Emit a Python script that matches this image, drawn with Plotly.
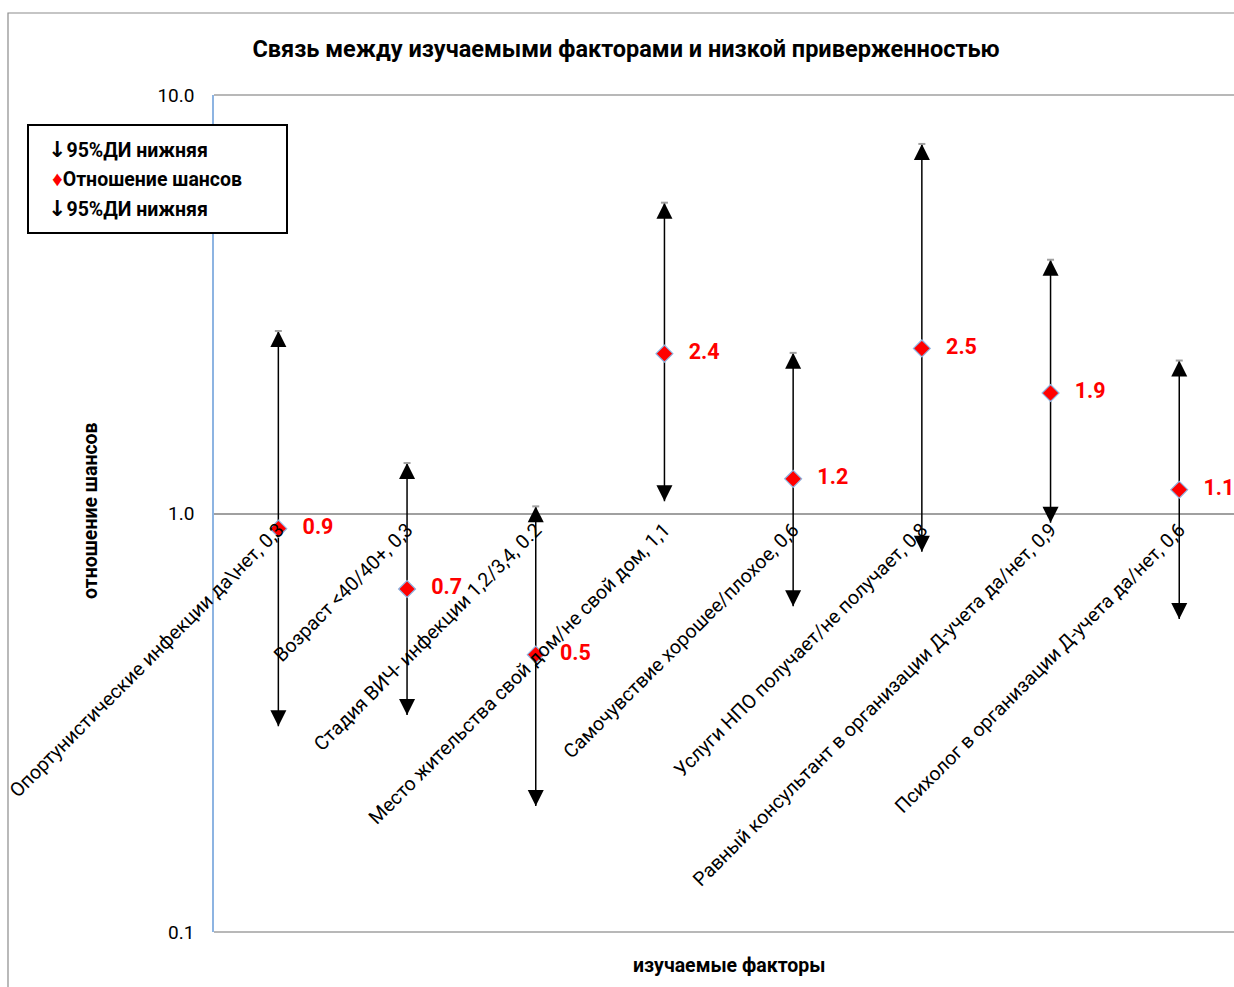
import numpy as np
import plotly.graph_objects as go

# Factors (with the lower 95% CI bound in the label)
categories = [
    "Опортунистические инфекции да\\нет, 0,3",
    "Возраст <40/40+, 0,3",
    "Стадия ВИЧ- инфекции 1,2/3,4, 0.2",
    "Место жительства свой дом/не свой дом, 1,1",
    "Самочувствие хорошее/плохое, 0,6",
    "Услуги НПО получает/не получает, 0,8",
    "Равный консультант в организации Д-учета да/нет, 0,9",
    "Психолог в организации Д-учета да/нет, 0,6",
]
odds_ratio = [0.92, 0.66, 0.46, 2.41, 1.21, 2.48, 1.94, 1.14]
ci_upper = [2.73, 1.32, 1.04, 5.53, 2.42, 7.64, 4.04, 2.32]
ci_lower = [0.31, 0.33, 0.20, 1.07, 0.60, 0.81, 0.95, 0.56]

y_ticks = [0.1, 1.0, 10.0]

FONT = "Roboto, 'Noto Sans', sans-serif"

# plot area in pixels
W, H = 1234, 987
L, R, T, B = 214, 0, 95, 55
PW, PH = W - L - R, H - T - B


def px(x):
    return (x - L) / PW


def py(y):
    return (H - B - y) / PH


orr = np.array(odds_ratio)
up = np.array(ci_upper)
lo = np.array(ci_lower)

fig = go.Figure()

# odds ratios with CI stems drawn as error bars
fig.add_trace(go.Scatter(
    x=categories, y=odds_ratio, mode="markers+text",
    name="Отношение шансов",
    marker=dict(symbol="diamond", size=13, color="#FF0000",
                line=dict(color="#8DB4E2", width=1.2)),
    error_y=dict(type="data", symmetric=False, array=up - orr,
                 arrayminus=orr - lo, width=0, thickness=1.5, color="black"),
    texttemplate="  \u2009%{y:.1f}", textposition="middle right",
    textfont=dict(family=FONT, size=21.5, color="#FF0000", weight="bold"),
    cliponaxis=False, showlegend=False,
))

# arrowheads at the CI bounds
fig.add_trace(go.Scatter(
    x=categories, y=ci_upper, mode="markers", name="95%ДИ верхняя",
    marker=dict(symbol="arrow-up", size=16, color="black"),
    cliponaxis=False, showlegend=False,
))
fig.add_trace(go.Scatter(
    x=categories, y=ci_lower, mode="markers", name="95%ДИ нижняя",
    marker=dict(symbol="arrow-down", size=16, color="black"),
    cliponaxis=False, showlegend=False,
))
fig.add_trace(go.Scatter(
    x=categories, y=ci_upper, mode="markers", hoverinfo="skip",
    marker=dict(symbol="line-ew", size=5, color="#A0A0A0",
                line=dict(color="#A0A0A0", width=2)),
    cliponaxis=False, showlegend=False,
))

step = 128.7
fig.update_xaxes(
    type="category", range=[-0.5, -0.5 + PW / step],
    anchor="free", position=0.5, side="bottom",
    showline=False, showgrid=False, ticks="", tickangle=-45,
    tickfont=dict(family=FONT, size=19.5, color="black"),
    automargin=False,
)
fig.update_yaxes(
    type="log", range=[-1, 1], tickvals=y_ticks, tickformat=".1f",
    showgrid=True, gridcolor="#A0A0A0", gridwidth=1.5,
    showline=True, linecolor="#8DB4E2", linewidth=1.5,
    ticks="", ticklabelstandoff=14,
    tickfont=dict(family=FONT, size=19, color="black"),
    automargin=False,
)

shapes = [
    # outer chart frame
    dict(type="rect", xref="paper", yref="paper",
         x0=px(8), x1=px(W + 10), y0=py(H + 10), y1=py(13),
         line=dict(color="#8C8C8C", width=1.2), fillcolor="rgba(0,0,0,0)",
         layer="below"),
    # grid lines along the top and bottom edges of the plot area
    dict(type="line", xref="paper", yref="paper", x0=0, x1=1, y0=1, y1=1,
         line=dict(color="#A0A0A0", width=1.5), layer="below"),
    dict(type="line", xref="paper", yref="paper", x0=0, x1=1, y0=0, y1=0,
         line=dict(color="#A0A0A0", width=1.5), layer="below"),
    # legend box
    dict(type="rect", xref="paper", yref="paper",
         x0=px(28), x1=px(287), y0=py(233), y1=py(125),
         line=dict(color="black", width=2), fillcolor="white", layer="above"),
]

legend_font = dict(family=FONT, size=19.5, color="black", weight="bold")
arrow_glyph = "<span style='font-family:DejaVu Sans;font-size:22px'>↓</span>"
legend_rows = [
    (149, 46, arrow_glyph + "95%ДИ нижняя"),
    (179, 50, "<span style='color:#FF0000;font-size:21px'>♦</span>Отношение шансов"),
    (208, 46, arrow_glyph + "95%ДИ нижняя"),
]
annotations = [
    dict(xref="paper", yref="paper", x=px(xx), y=py(yy), text=t,
         showarrow=False, xanchor="left", yanchor="middle", font=legend_font)
    for yy, xx, t in legend_rows
]
annotations += [
    dict(xref="paper", yref="paper", x=px(90), y=py(511),
         text="отношение шансов", textangle=-90, showarrow=False,
         xanchor="center", yanchor="middle",
         font=dict(family=FONT, size=19.5, color="black", weight="bold")),
    dict(xref="paper", yref="paper", x=px(729), y=py(965),
         text="изучаемые факторы", showarrow=False,
         xanchor="center", yanchor="middle",
         font=dict(family=FONT, size=19.5, color="black", weight="bold")),
]

fig.update_layout(
    width=W, height=H,
    margin=dict(l=L, r=R, t=T, b=B, pad=0),
    paper_bgcolor="white", plot_bgcolor="white",
    title=dict(text="Связь между изучаемыми факторами и низкой приверженностью",
               x=626 / W, y=1 - 49 / H, xanchor="center", yanchor="middle",
               font=dict(family=FONT, size=23.5, color="black", weight="bold")),
    shapes=shapes, annotations=annotations, showlegend=False,
)

fig.write_html("out.html")
